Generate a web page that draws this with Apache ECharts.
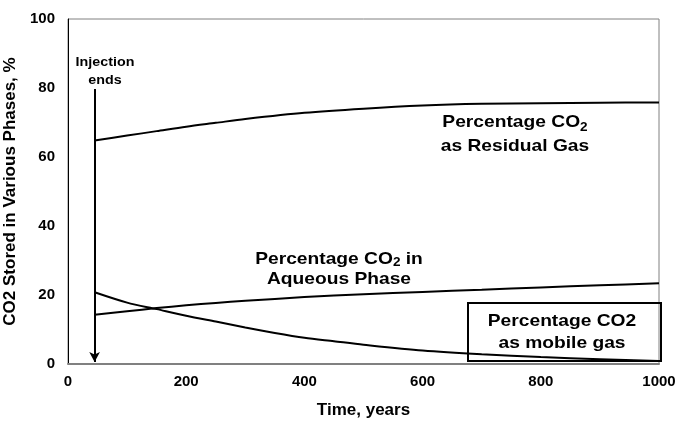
<!DOCTYPE html>
<html>
<head>
<meta charset="utf-8">
<script src="https://cdn.jsdelivr.net/npm/echarts@6/dist/echarts.min.js"></script>
<style>
  html, body { margin: 0; padding: 0; background: #fff; }
  #chart { width: 676px; height: 421px; }
</style>
</head>
<body>
<div id="chart"></div>
<script>
// Fractions of injected CO2 held in each phase after injection stops (years, %)
var residualYears = [45, 100, 150, 200, 250, 300, 400, 500, 600, 700, 800, 900, 1000];
var residualPct   = [64.8, 66.2, 67.5, 68.8, 69.9, 71.0, 72.8, 74.0, 74.9, 75.4, 75.6, 75.75, 75.8];

var aqueousYears = [45, 100, 150, 200, 250, 300, 400, 500, 600, 700, 800, 900, 1000];
var aqueousPct   = [14.3, 15.3, 16.2, 17.0, 17.7, 18.3, 19.4, 20.2, 20.9, 21.5, 22.2, 22.8, 23.4];

var mobileYears = [45, 100, 150, 200, 250, 300, 350, 400, 450, 500, 600, 700, 800, 900, 1000];
var mobilePct   = [20.8, 17.8, 15.9, 14.0, 12.3, 10.6, 9.0, 7.6, 6.6, 5.6, 3.9, 2.8, 2.0, 1.4, 0.9];

var injectionEndYear = 45;
var xTicks = [0, 200, 400, 600, 800, 1000];
var yTicks = [0, 20, 40, 60, 80, 100];

function pairs(xs, ys) {
  return xs.map(function (x, i) { return [x, ys[i]]; });
}

var FONT = '"Liberation Sans", Arial, sans-serif';
var chart = echarts.init(document.getElementById('chart'));

var lineStyle = { color: '#000', width: 2 };
function richStyle(lh) {
  return {
    b: { fontFamily: FONT, fontWeight: 'bold', fontSize: 17, fill: '#000', lineHeight: lh },
    s: { fontFamily: FONT, fontWeight: 'bold', fontSize: 12, fill: '#000', verticalAlign: 'bottom', lineHeight: 9 }
  };
}

function curve(name, xs, ys) {
  return {
    type: 'line', name: name, data: pairs(xs, ys),
    smooth: 0.3, showSymbol: false, lineStyle: lineStyle
  };
}

var mobile = curve('Mobile', mobileYears, mobilePct);
mobile.markLine = {
  silent: true, symbol: ['none', 'arrow'], symbolSize: [8, 10],
  lineStyle: { color: '#000', width: 2, type: 'solid' },
  label: { show: false },
  data: [[{ coord: [injectionEndYear, 79.7] }, { coord: [injectionEndYear, 0.6] }]]
};

chart.setOption({
  animation: false,
  backgroundColor: '#fff',
  grid: {
    left: 68, right: 17, top: 19, bottom: 57,
    outerBoundsMode: 'none', containLabel: false,
    show: true, borderColor: '#808080', borderWidth: 1
  },
  xAxis: {
    type: 'value', min: 0, max: 1000, interval: 200,
    name: 'Time, years', nameLocation: 'middle', nameGap: 38,
    nameTextStyle: { fontFamily: FONT, fontWeight: 'bold', fontSize: 17, color: '#000' },
    axisLine: { show: true, lineStyle: { color: '#808080', width: 2 } },
    axisTick: { show: false },
    splitLine: { show: false },
    axisLabel: {
      fontFamily: FONT, fontWeight: 'bold', fontSize: 15, color: '#000', margin: 10,
      formatter: function (v) { return xTicks.indexOf(v) >= 0 ? String(v) : ''; }
    }
  },
  yAxis: {
    type: 'value', min: 0, max: 100, interval: 20,
    name: 'CO2 Stored in Various Phases, %', nameLocation: 'middle', nameGap: 37,
    nameTextStyle: { fontFamily: FONT, fontWeight: 'bold', fontSize: 17, color: '#000' },
    axisLine: { show: true, lineStyle: { color: '#000', width: 1 } },
    axisTick: { show: false },
    splitLine: { show: false },
    axisLabel: {
      fontFamily: FONT, fontWeight: 'bold', fontSize: 15, color: '#000', margin: 13,
      formatter: function (v) { return yTicks.indexOf(v) >= 0 ? String(v) : ''; }
    }
  },
  series: [
    curve('Residual', residualYears, residualPct),
    curve('Aqueous', aqueousYears, aqueousPct),
    mobile
  ],
  graphic: [
    {
      type: 'text', x: 105, y: 53, scaleX: 1.1,
      style: {
        text: 'Injection\nends', textAlign: 'center', fontFamily: FONT, fontWeight: 'bold',
        fontSize: 13, lineHeight: 18, fill: '#000'
      }
    },
    {
      type: 'text', x: 515, y: 110, scaleX: 1.13,
      style: {
        text: '{b|Percentage CO}{s|2}\n{b|as Residual Gas}', rich: richStyle(24),
        align: 'center', textAlign: 'center', fill: '#000'
      }
    },
    {
      type: 'text', x: 339, y: 249, scaleX: 1.13,
      style: {
        text: '{b|Percentage CO}{s|2}{b| in}\n{b|Aqueous Phase}', rich: richStyle(20),
        align: 'center', textAlign: 'center', fill: '#000'
      }
    },
    {
      type: 'rect', shape: { x: 468, y: 303, width: 193, height: 58 },
      style: { fill: 'none', stroke: '#000', lineWidth: 2 }, z: 100
    },
    {
      type: 'text', x: 562, y: 310, z: 101, scaleX: 1.13,
      style: {
        text: 'Percentage CO2\nas mobile gas', textAlign: 'center', fontFamily: FONT,
        fontWeight: 'bold', fontSize: 17, lineHeight: 22, fill: '#000'
      }
    }
  ]
});
</script>
</body>
</html>
